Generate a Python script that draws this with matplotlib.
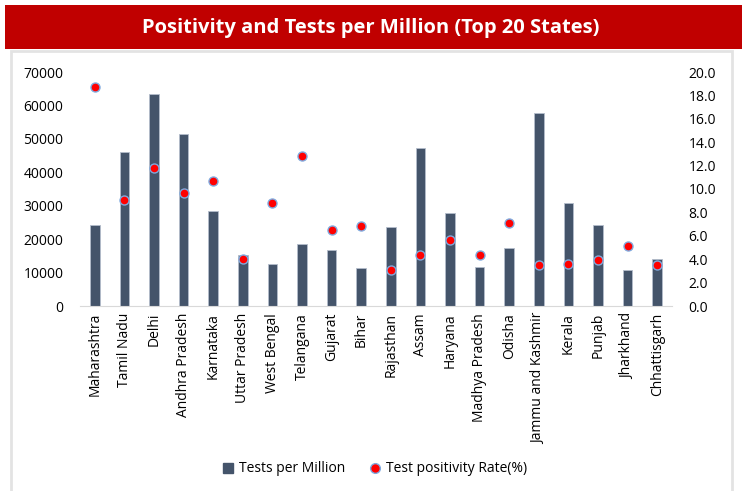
import matplotlib.pyplot as plt
from matplotlib.patches import Rectangle
from matplotlib.lines import Line2D

states = ["Maharashtra", "Tamil Nadu", "Delhi", "Andhra Pradesh", "Karnataka",
          "Uttar Pradesh", "West Bengal", "Telangana", "Gujarat", "Bihar",
          "Rajasthan", "Assam", "Haryana", "Madhya Pradesh", "Odisha",
          "Jammu and Kashmir", "Kerala", "Punjab", "Jharkhand", "Chhattisgarh"]
tests_per_million = [24200, 46000, 63300, 51500, 28400,
                     15400, 12500, 18400, 16900, 11400,
                     23600, 47400, 27800, 11700, 17300,
                     57600, 30800, 24100, 10900, 14000]
positivity_rate = [18.7, 9.1, 11.8, 9.7, 10.7,
                   4.0, 8.8, 12.8, 6.5, 6.8,
                   3.1, 4.4, 5.6, 4.4, 7.1,
                   3.5, 3.6, 3.9, 5.1, 3.5]
left_ticks = [0, 10000, 20000, 30000, 40000, 50000, 60000, 70000]
right_ticks = [0, 2, 4, 6, 8, 10, 12, 14, 16, 18, 20]

plt.rcParams['font.family'] = ['Open Sans', 'DejaVu Sans']

W, H = 742, 491
fig = plt.figure(figsize=(W / 100, H / 100), dpi=100)

# red title band and light chart frame
fig.patches.append(Rectangle((5 / W, 1 - 49 / H), 1 - 5 / W, 44 / H,
                             transform=fig.transFigure, facecolor="#C00000",
                             edgecolor="none", zorder=0))
fig.patches.append(Rectangle((11 / W, -0.01), 721 / W, 1 - 51 / H + 0.01,
                             transform=fig.transFigure, facecolor="none",
                             edgecolor="#E3E3E3", linewidth=2, zorder=0))
fig.text(0.5, 1 - 28 / H, "Positivity and Tests per Million (Top 20 States)",
         ha="center", va="center", color="white", fontsize=14.5,
         fontweight="bold")

ax = fig.add_axes([80 / W, 1 - 306 / H, 592 / W, 234 / H])
x = list(range(len(states)))
ax.bar(x, tests_per_million, width=0.32, color="#44546A",
       edgecolor="#B4BDCB", linewidth=0.6, zorder=2)
ax.set_xlim(-0.5, len(states) - 0.5)
ax.set_ylim(0, 70000)
ax.set_yticks(left_ticks)
ax.set_yticklabels([str(v) for v in left_ticks])
ax.set_xticks(x)
ax.set_xticklabels(states, rotation=90)
for s in ["top", "left", "right"]:
    ax.spines[s].set_visible(False)
ax.spines["bottom"].set_color("#D9D9D9")
ax.tick_params(axis="both", length=0, labelsize=10, colors="#000000", pad=5)
ax.tick_params(axis="y", pad=12)

ax2 = ax.twinx()
ax2.scatter(x, positivity_rate, s=42, color="#FF0000",
            edgecolor="#7FA9DE", linewidth=1.0, zorder=3)
ax2.set_ylim(0, 20)
ax2.set_yticks(right_ticks)
ax2.set_yticklabels([f"{v:.1f}" for v in right_ticks])
for s in ["top", "left", "right", "bottom"]:
    ax2.spines[s].set_visible(False)
ax2.tick_params(axis="y", length=0, labelsize=10, pad=12)

handles = [
    Line2D([], [], marker="s", linestyle="none", markersize=7,
           markerfacecolor="#44546A", markeredgecolor="#44546A"),
    Line2D([], [], marker="o", linestyle="none", markersize=7,
           markerfacecolor="#FF0000", markeredgecolor="#7FA9DE"),
]
fig.legend(handles, ["Tests per Million", "Test positivity Rate(%)"],
           loc="center", bbox_to_anchor=(374 / W, 1 - 469 / H), ncol=2,
           frameon=False, fontsize=10, handletextpad=0.25, columnspacing=1.7,
           handlelength=1.0)

fig.savefig("out.png", dpi=100)
